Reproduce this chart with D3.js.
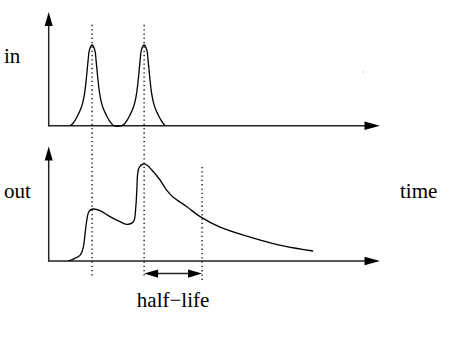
<!DOCTYPE html>
<html>
<head>
<meta charset="utf-8">
<script src="https://cdn.jsdelivr.net/npm/d3@7/dist/d3.min.js"></script>
<style>
  html, body { margin: 0; padding: 0; background: #fff; }
  svg { display: block; }
  text { font-family: "Liberation Serif", "DejaVu Serif", serif; font-size: 21px; fill: #000; }
</style>
</head>
<body>
<svg id="chart" width="450" height="338"></svg>
<script>
// ---- data ----
const inTime  = [0.64, 0.72, 0.80, 0.88, 0.96, 1.03, 1.09, 1.14, 1.19, 1.23, 1.31, 1.39, 1.43, 1.48, 1.53, 1.59, 1.66, 1.74, 1.82, 1.90, 1.96,
                 2.20, 2.29, 2.37, 2.45, 2.53, 2.60, 2.66, 2.71, 2.76, 2.80, 2.88, 2.96, 3.00, 3.05, 3.10, 3.16, 3.23, 3.31, 3.39, 3.46, 3.52];
const inValue = [0,    0.025,0.07, 0.13, 0.20, 0.29, 0.42, 0.60, 0.81, 0.94, 1.00, 0.94, 0.81, 0.60, 0.42, 0.29, 0.20, 0.13, 0.07, 0.025,0,
                 0,    0.025,0.07, 0.13, 0.20, 0.29, 0.42, 0.60, 0.81, 0.94, 1.00, 0.94, 0.81, 0.60, 0.42, 0.29, 0.20, 0.13, 0.07, 0.025,0];

const outTime  = [0.58, 0.74, 0.95, 1.05, 1.10, 1.15, 1.20, 1.27, 1.35, 1.55, 1.85, 2.15, 2.35, 2.51, 2.58, 2.63, 2.66, 2.69, 2.74,
                  2.86, 2.96, 3.16, 3.36, 3.56, 3.76, 4.17, 4.57, 5.17, 6.08, 7.08, 7.98];
const outValue = [0,    0.02, 0.06, 0.15, 0.29, 0.42, 0.50, 0.53, 0.536, 0.52, 0.457, 0.405, 0.378, 0.39, 0.42, 0.56, 0.73, 0.91, 0.97,
                  1.00, 0.99, 0.92, 0.835, 0.73, 0.657, 0.56, 0.457, 0.35, 0.247, 0.155, 0.103];

const pulseTimes = [1.31, 2.88];   // input pulse centres
const halfLifeTime = 4.63;         // time at which output has halved
const labels = { input: "in", output: "out", time: "time", halfLife: "half\u2212life" };

// ---- scales ----
const x = d3.scaleLinear().domain([0, 10]).range([48.7, 380]);
const yIn = d3.scaleLinear().domain([0, 1]).range([125.7, 45]);
const yOut = d3.scaleLinear().domain([0, 1]).range([261, 164]);

const svg = d3.select("#chart");
const ink = "#000";

// dotted guide lines
const dots = svg.append("g").attr("stroke", ink).attr("stroke-width", 1.3)
  .attr("stroke-dasharray", "1.3,3").attr("fill", "none");
pulseTimes.forEach(t => {
  dots.append("line").attr("x1", x(t)).attr("x2", x(t))
    .attr("y1", yIn(1.25)).attr("y2", yOut(-0.175));
});
dots.append("line").attr("x1", x(halfLifeTime)).attr("x2", x(halfLifeTime))
  .attr("y1", yOut(0.97)).attr("y2", yOut(-0.22));

// axes with arrowheads
function axisPair(yScale, topVal) {
  const g = svg.append("g");
  const x0 = x(0), y0 = yScale(0), xEnd = x(10), yTop = yScale(topVal);
  g.append("line").attr("x1", x0).attr("x2", xEnd - 12).attr("y1", y0).attr("y2", y0)
    .attr("stroke", "#222").attr("stroke-width", 1.5);
  g.append("line").attr("x1", x0).attr("x2", x0).attr("y1", y0 + 0.7).attr("y2", yTop + 10)
    .attr("stroke", "#222").attr("stroke-width", 1.5);
  g.append("path").attr("d", `M${xEnd},${y0} L${xEnd - 15.5},${y0 - 4.2} L${xEnd - 15.5},${y0 + 4.2} Z`).attr("fill", ink);
  g.append("path").attr("d", `M${x0},${yTop} L${x0 - 4},${yTop + 14} L${x0 + 4},${yTop + 14} Z`).attr("fill", ink);
}
axisPair(yIn, 1.41);
axisPair(yOut, 1.18);

// curves
const inLine = d3.line().x((d, i) => x(inTime[i])).y(d => yIn(d)).curve(d3.curveCatmullRom.alpha(0.5));
svg.append("path").datum(inValue).attr("d", inLine)
  .attr("fill", "none").attr("stroke", ink).attr("stroke-width", 1.3);

const outLine = d3.line().x((d, i) => x(outTime[i])).y(d => yOut(d)).curve(d3.curveCatmullRom.alpha(0.5));
svg.append("path").datum(outValue).attr("d", outLine)
  .attr("fill", "none").attr("stroke", ink).attr("stroke-width", 1.3);

// half-life double arrow
const ay = yOut(-0.13), ax1 = x(pulseTimes[1]), ax2 = x(halfLifeTime);
svg.append("line").attr("x1", ax1 + 10).attr("x2", ax2 - 10).attr("y1", ay).attr("y2", ay)
  .attr("stroke", "#222").attr("stroke-width", 1.5);
svg.append("path").attr("d", `M${ax1},${ay} L${ax1 + 14},${ay - 4.2} L${ax1 + 14},${ay + 4.2} Z`).attr("fill", ink);
svg.append("path").attr("d", `M${ax2},${ay} L${ax2 - 14},${ay - 4.2} L${ax2 - 14},${ay + 4.2} Z`).attr("fill", ink);

// labels
svg.append("text").attr("x", 4).attr("y", 63).text(labels.input);
svg.append("text").attr("x", 4).attr("y", 198).text(labels.output);
svg.append("text").attr("x", 400).attr("y", 198).text(labels.time);
svg.append("text").attr("x", (ax1 + ax2) / 2).attr("y", 306.5).attr("text-anchor", "middle").text(labels.halfLife);

// tiny stray speck seen in the reference
svg.append("rect").attr("x", 362.5).attr("y", 71.5).attr("width", 1).attr("height", 1).attr("fill", "#999");
</script>
</body>
</html>
